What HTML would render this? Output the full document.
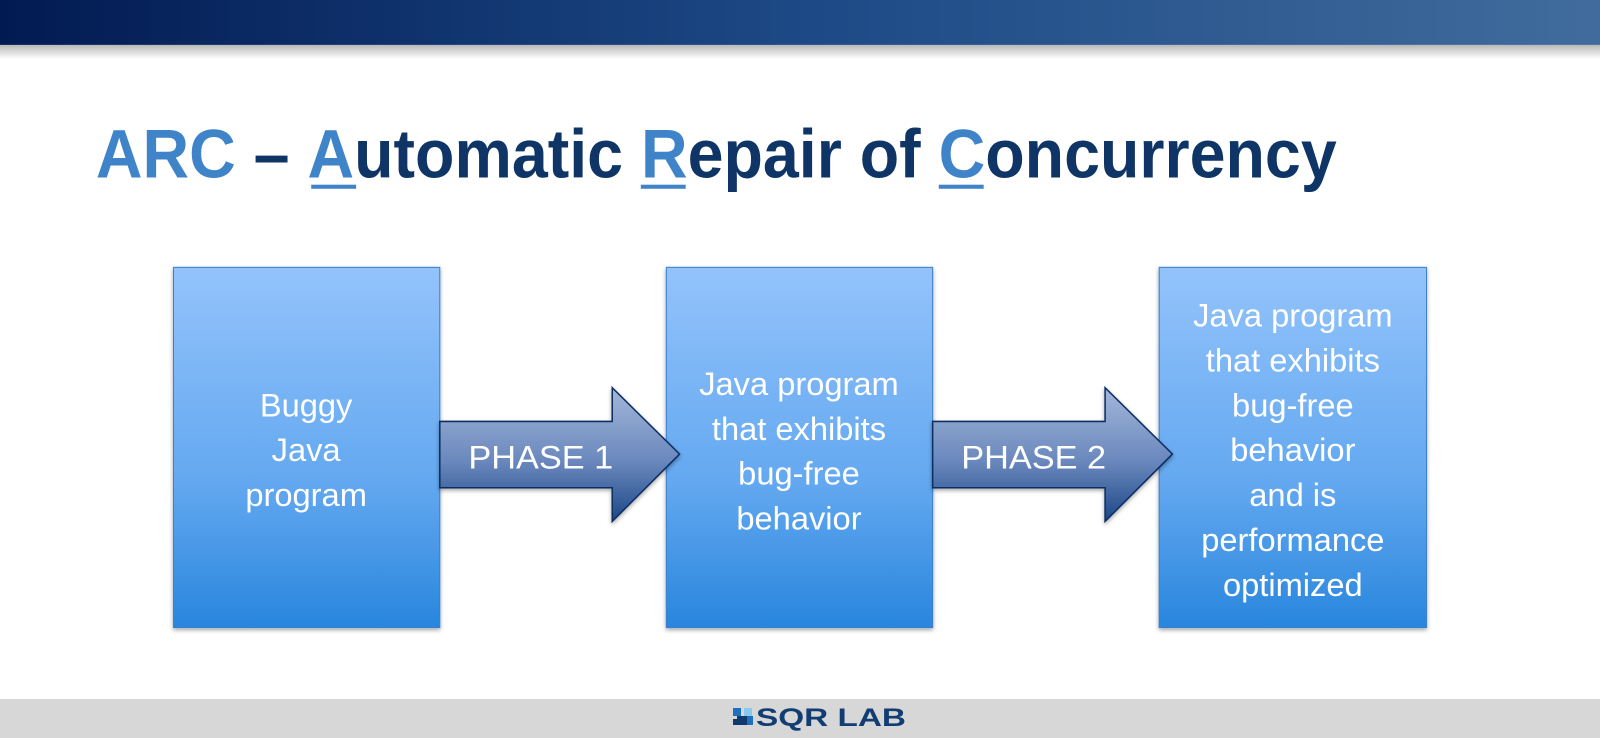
<!DOCTYPE html>
<html><head><style>html,body{margin:0;padding:0;background:#fff;width:1600px;height:738px;overflow:hidden}</style></head>
<body>
<svg width="1600" height="738" xmlns="http://www.w3.org/2000/svg" font-family="Liberation Sans, sans-serif">
<defs>
<linearGradient id="hdr" x1="0" x2="1" y1="0" y2="0"><stop offset="0" stop-color="#021a52"/><stop offset="0.5" stop-color="#1d4a86"/><stop offset="1" stop-color="#426d9e"/></linearGradient>
<linearGradient id="sh" x1="0" x2="0" y1="0" y2="1"><stop offset="0" stop-color="#b8b8b8"/><stop offset="1" stop-color="#fff"/></linearGradient>
<linearGradient id="box" x1="0" x2="0" y1="0" y2="1"><stop offset="0" stop-color="#93c3fb"/><stop offset="0.6" stop-color="#63a8f0"/><stop offset="1" stop-color="#2886dd"/></linearGradient>
<linearGradient id="arr" x1="0" x2="0" y1="0" y2="1"><stop offset="0" stop-color="#a4b7d9"/><stop offset="0.55" stop-color="#6a88bd"/><stop offset="1" stop-color="#1c4788"/></linearGradient>
<filter id="ds" x="-10%" y="-10%" width="120%" height="120%"><feDropShadow dx="0" dy="2" stdDeviation="2" flood-opacity="0.35"/></filter>
</defs>
<rect x="0" y="0" width="1600" height="738" fill="#fff"/>
<g transform="scale(1.0204)">
<rect x="0" y="44" width="1600" height="14" fill="url(#sh)"/>
<rect x="0" y="0" width="1600" height="44" fill="url(#hdr)"/>
<text x="94" y="174" font-size="67" font-weight="bold" textLength="1216" lengthAdjust="spacingAndGlyphs" fill="#0f3566"><tspan fill="#3f84c8">ARC</tspan> – <tspan fill="#3f84c8">A</tspan>utomatic <tspan fill="#3f84c8">R</tspan>epair of <tspan fill="#3f84c8">C</tspan>oncurrency</text>
<rect x="305" y="181" width="44" height="4" fill="#3f84c8"/>
<rect x="628" y="181" width="44" height="4" fill="#3f84c8"/>
<rect x="920" y="181" width="44" height="4" fill="#3f84c8"/>
<g filter="url(#ds)" stroke="#3b7fcf" stroke-width="1">
<rect x="170" y="262" width="261" height="353" fill="url(#box)"/>
<rect x="653" y="262" width="261" height="353" fill="url(#box)"/>
<rect x="1136" y="262" width="262" height="353" fill="url(#box)"/>
</g>
<g filter="url(#ds)" stroke="#0f2f63" stroke-width="1.5">
<path d="M431 413 H600 V380 L666 445 L600 511 V478 H431 Z" fill="url(#arr)"/>
<path d="M914 413 H1083 V380 L1149 445 L1083 511 V478 H914 Z" fill="url(#arr)"/>
</g>
<g fill="#fff" font-size="32" text-anchor="middle">
<text x="530" y="459" textLength="142" lengthAdjust="spacingAndGlyphs">PHASE 1</text>
<text x="1013" y="459" textLength="142" lengthAdjust="spacingAndGlyphs">PHASE 2</text>
<text x="300" y="408">Buggy</text><text x="300" y="452">Java</text><text x="300" y="496">program</text>
<text x="783" y="387">Java program</text><text x="783" y="431">that exhibits</text><text x="783" y="475">bug-free</text><text x="783" y="519">behavior</text>
<text x="1267" y="320">Java program</text><text x="1267" y="364">that exhibits</text><text x="1267" y="408">bug-free</text><text x="1267" y="452">behavior</text><text x="1267" y="496">and is</text><text x="1267" y="540">performance</text><text x="1267" y="584">optimized</text>
</g>
</g>
<rect x="0" y="699" width="1600" height="39" fill="#d7d7d7"/>
<rect x="733" y="708" width="8" height="8" fill="#1f6fc0"/>
<rect x="744" y="708" width="8" height="8" fill="#8cc7ec"/>
<rect x="737" y="716" width="10" height="9" fill="#103a6e"/>
<rect x="733" y="719" width="6" height="6" fill="#103a6e"/>
<rect x="747" y="716" width="6" height="9" fill="#1f6fc0"/>
<text x="756" y="726" font-size="25" font-weight="bold" fill="#123d72" textLength="150" lengthAdjust="spacingAndGlyphs">SQR LAB</text>
</svg>
</body></html>
